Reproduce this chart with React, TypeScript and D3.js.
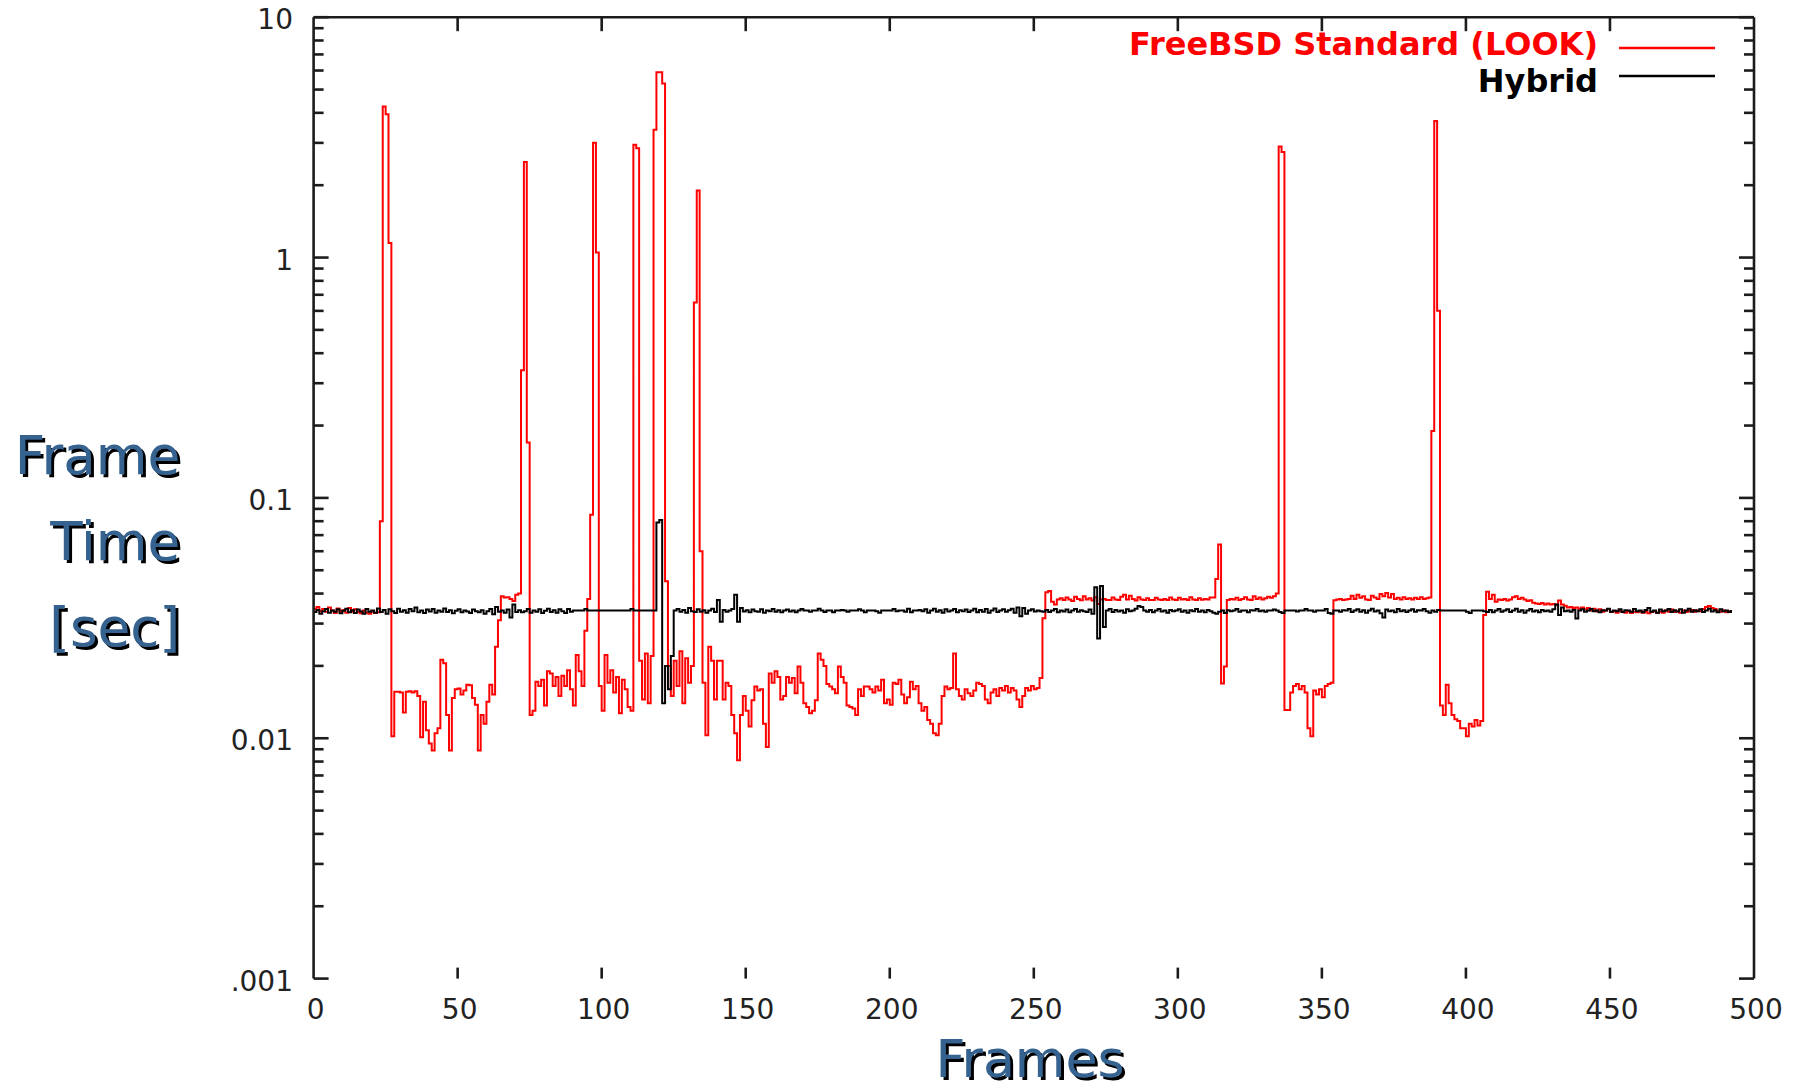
import React from 'react';
import * as d3 from 'd3';

const W = 1801;
const H = 1091;

// FreeBSD Standard (LOOK) frame times, frames 0..492 (seconds)
const freebsdLook: number[] = [
  0.0345,0.0352,0.0338,0.0345,0.0336,0.0350,0.0340,0.0332,0.0347,0.0338,0.0342,0.0333,0.0348,0.0336,0.0344,0.0335,0.0331,0.0340,0.0333,0.0330,
  0.0336,0.0332,0.0334,0.080,4.25,3.95,1.15,0.0102,0.0156,0.0156,0.0155,0.0128,0.0156,0.0157,0.0155,0.0157,0.0150,0.0101,0.0142,0.0108,
  0.0095,0.0089,0.0105,0.0110,0.0212,0.0205,0.0125,0.0089,0.0147,0.0160,0.0161,0.0152,0.0158,0.0167,0.0166,0.0147,0.0138,0.0089,0.0125,0.0115,
  0.0142,0.0167,0.0152,0.024,0.031,0.039,0.0385,0.0386,0.0380,0.0372,0.0395,0.0400,0.34,2.5,0.17,0.0125,0.0130,0.0172,0.0165,0.0175,
  0.0137,0.0190,0.0186,0.0165,0.0180,0.0150,0.0182,0.0165,0.0192,0.0160,0.0137,0.0222,0.0190,0.0165,0.028,0.038,0.085,3.0,1.05,0.0165,
  0.0130,0.0222,0.0170,0.0192,0.0155,0.0180,0.0127,0.0175,0.0160,0.0135,0.0130,2.95,2.85,0.0210,0.0145,0.0225,0.0140,0.0220,3.4,5.9,
  5.9,5.3,0.045,0.020,0.0150,0.0210,0.0165,0.0230,0.0140,0.0215,0.0170,0.0200,0.65,1.9,0.060,0.017,0.0103,0.024,0.021,0.0145,
  0.021,0.021,0.0145,0.017,0.0165,0.0125,0.0105,0.0081,0.0125,0.015,0.013,0.0112,0.0144,0.0164,0.0158,0.0160,0.0115,0.0092,0.0186,0.0170,
  0.0190,0.0180,0.0145,0.0150,0.0180,0.0170,0.0178,0.0154,0.0199,0.0170,0.0140,0.0135,0.0127,0.0130,0.0144,0.0225,0.0212,0.0200,0.0168,0.0164,
  0.0160,0.0154,0.0199,0.0180,0.0170,0.0137,0.0135,0.0133,0.0125,0.0160,0.0150,0.0164,0.0164,0.0160,0.0155,0.0164,0.0158,0.0175,0.0140,0.0145,
  0.0138,0.0170,0.0168,0.0175,0.0152,0.0140,0.0148,0.0172,0.0160,0.0165,0.0140,0.0130,0.0135,0.0119,0.0115,0.0105,0.0103,0.0115,0.0150,0.0164,
  0.0160,0.0162,0.0225,0.0160,0.0150,0.0145,0.0160,0.0154,0.0150,0.0158,0.0170,0.0168,0.0165,0.0145,0.0140,0.0155,0.0160,0.0150,0.0162,0.0158,
  0.0165,0.0155,0.0162,0.0158,0.0145,0.0135,0.0150,0.0162,0.0158,0.0165,0.0160,0.0162,0.0178,0.0316,0.0405,0.0410,0.0370,0.0360,0.0378,0.0382,
  0.0376,0.0385,0.0378,0.0372,0.0388,0.0380,0.0375,0.0390,0.0378,0.0382,0.0374,0.0386,0.0362,0.0378,0.0380,0.0376,0.0376,0.0385,0.0378,0.0376,
  0.0388,0.0395,0.0378,0.0392,0.0380,0.0374,0.0386,0.0378,0.0376,0.0382,0.0376,0.0376,0.0384,0.0378,0.0376,0.0380,0.0376,0.0385,0.0378,0.0376,
  0.0384,0.0378,0.0380,0.0376,0.0386,0.0378,0.0376,0.0382,0.0377,0.0380,0.0378,0.0385,0.0385,0.046,0.064,0.0169,0.0199,0.0376,0.0380,0.0378,
  0.0384,0.0376,0.0380,0.0386,0.0378,0.0376,0.0390,0.0380,0.0385,0.0378,0.0382,0.0388,0.0384,0.0390,0.0400,2.9,2.75,0.0131,0.0131,0.0155,
  0.0165,0.0168,0.0160,0.0165,0.0155,0.0110,0.0102,0.0158,0.0152,0.0160,0.0148,0.0165,0.0168,0.0170,0.0375,0.0378,0.0380,0.0376,0.0378,0.0380,
  0.0392,0.0380,0.0395,0.0384,0.0390,0.0378,0.0376,0.0392,0.0385,0.0380,0.0398,0.0390,0.0402,0.0385,0.0398,0.0380,0.0384,0.0378,0.0386,0.0380,
  0.0382,0.0378,0.0384,0.0380,0.0386,0.0380,0.0382,0.0385,0.19,3.7,0.6,0.0137,0.0125,0.0167,0.0140,0.0125,0.0120,0.0118,0.0110,0.0110,
  0.0102,0.0115,0.0112,0.0119,0.0113,0.0118,0.0326,0.0407,0.0380,0.0395,0.0370,0.0378,0.0376,0.0380,0.0374,0.0378,0.0386,0.0390,0.0380,0.0384,
  0.0378,0.0372,0.0375,0.0366,0.0364,0.0362,0.0365,0.0360,0.0364,0.0360,0.0362,0.0358,0.0374,0.0360,0.0356,0.0350,0.0352,0.0348,0.0350,0.0346,
  0.0350,0.0344,0.0348,0.0340,0.0346,0.0338,0.0344,0.0336,0.0340,0.0345,0.0335,0.0338,0.0333,0.0340,0.0336,0.0333,0.0338,0.0332,0.0336,0.0334,
  0.0338,0.0333,0.0336,0.0331,0.0335,0.0338,0.0332,0.0336,0.0333,0.0340,0.0336,0.0343,0.0335,0.0338,0.0333,0.0340,0.0335,0.0338,0.0342,0.0336,
  0.0340,0.0338,0.0345,0.0352,0.0355,0.0348,0.0345,0.0338,0.0336,0.0340,0.0334,0.0338,0.0336,
];

// Hybrid frame times, frames 0..492 (seconds)
const hybrid: number[] = [
  0.0335,0.0342,0.0330,0.0338,0.0345,0.0333,0.0340,0.0336,0.0344,0.0331,0.0339,0.0346,0.0334,0.0341,0.0332,0.0343,0.0337,0.0330,0.0345,0.0336,
  0.0340,0.0333,0.0347,0.0335,0.0342,0.0330,0.0344,0.0338,0.0332,0.0346,0.0336,0.0341,0.0333,0.0345,0.0338,0.0350,0.0334,0.0340,0.0332,0.0343,
  0.0337,0.0345,0.0333,0.0340,0.0336,0.0347,0.0335,0.0341,0.0331,0.0339,0.0344,0.0334,0.0340,0.0337,0.0332,0.0343,0.0338,0.0334,0.0341,0.0330,
  0.0338,0.0345,0.0328,0.0352,0.0336,0.0340,0.0333,0.0343,0.0318,0.0360,0.0335,0.0341,0.0334,0.0338,0.0345,0.0333,0.0340,0.0336,0.0344,0.0332,
  0.0339,0.0346,0.0335,0.0341,0.0333,0.0344,0.0338,0.0332,0.0345,0.0336,0.0340,0.0340,0.0340,0.0340,0.0345,0.0340,0.0340,0.0340,0.0340,0.0340,
  0.0340,0.0340,0.0340,0.0340,0.0340,0.0340,0.0340,0.0340,0.0340,0.0340,0.0345,0.0340,0.0340,0.0340,0.0340,0.0340,0.0340,0.0340,0.0340,0.0790,
  0.0810,0.0140,0.0200,0.0160,0.0220,0.0340,0.0345,0.0336,0.0342,0.0333,0.0348,0.0338,0.0335,0.0344,0.0336,0.0341,0.0333,0.0340,0.0346,0.0335,
  0.0376,0.0305,0.0342,0.0336,0.0340,0.0345,0.0395,0.0305,0.0348,0.0337,0.0341,0.0334,0.0343,0.0338,0.0336,0.0344,0.0333,0.0340,0.0338,0.0345,
  0.0336,0.0341,0.0334,0.0340,0.0343,0.0337,0.0340,0.0334,0.0340,0.0345,0.0340,0.0340,0.0336,0.0340,0.0340,0.0346,0.0340,0.0335,0.0340,0.0340,
  0.0334,0.0340,0.0340,0.0342,0.0340,0.0336,0.0340,0.0340,0.0340,0.0344,0.0340,0.0334,0.0340,0.0340,0.0340,0.0338,0.0333,0.0340,0.0340,0.0340,
  0.0340,0.0345,0.0338,0.0340,0.0340,0.0336,0.0346,0.0334,0.0340,0.0340,0.0342,0.0338,0.0344,0.0333,0.0340,0.0346,0.0336,0.0341,0.0333,0.0344,
  0.0337,0.0340,0.0345,0.0334,0.0341,0.0338,0.0343,0.0335,0.0340,0.0346,0.0334,0.0342,0.0336,0.0345,0.0333,0.0340,0.0347,0.0335,0.0340,0.0344,
  0.0336,0.0341,0.0346,0.0333,0.0350,0.0322,0.0348,0.0330,0.0340,0.0344,0.0337,0.0340,0.0338,0.0336,0.0342,0.0335,0.0340,0.0345,0.0334,0.0340,
  0.0337,0.0343,0.0334,0.0340,0.0345,0.0336,0.0341,0.0338,0.0335,0.0343,0.0330,0.0425,0.0260,0.0430,0.0290,0.0340,0.0345,0.0335,0.0342,0.0337,
  0.0340,0.0333,0.0344,0.0338,0.0340,0.0346,0.0355,0.0352,0.0340,0.0336,0.0342,0.0334,0.0340,0.0345,0.0337,0.0340,0.0333,0.0342,0.0338,0.0340,
  0.0344,0.0336,0.0340,0.0333,0.0341,0.0338,0.0345,0.0336,0.0340,0.0334,0.0342,0.0338,0.0333,0.0330,0.0336,0.0340,0.0332,0.0341,0.0338,0.0340,
  0.0345,0.0336,0.0340,0.0340,0.0334,0.0341,0.0340,0.0345,0.0338,0.0340,0.0336,0.0340,0.0340,0.0343,0.0340,0.0335,0.0332,0.0340,0.0340,0.0340,
  0.0340,0.0337,0.0340,0.0340,0.0345,0.0340,0.0340,0.0336,0.0340,0.0340,0.0340,0.0345,0.0332,0.0330,0.0340,0.0340,0.0336,0.0341,0.0340,0.0345,
  0.0335,0.0340,0.0344,0.0336,0.0341,0.0333,0.0340,0.0346,0.0337,0.0340,0.0331,0.0318,0.0343,0.0338,0.0340,0.0334,0.0345,0.0338,0.0341,0.0335,
  0.0340,0.0344,0.0336,0.0341,0.0340,0.0345,0.0338,0.0333,0.0340,0.0336,0.0342,0.0340,0.0340,0.0340,0.0340,0.0340,0.0340,0.0340,0.0340,0.0340,
  0.0336,0.0332,0.0340,0.0340,0.0340,0.0340,0.0338,0.0335,0.0342,0.0334,0.0340,0.0345,0.0336,0.0340,0.0344,0.0335,0.0340,0.0346,0.0336,0.0341,
  0.0333,0.0340,0.0345,0.0337,0.0340,0.0334,0.0342,0.0338,0.0340,0.0336,0.0344,0.0360,0.0326,0.0350,0.0338,0.0340,0.0336,0.0342,0.0315,0.0340,
  0.0344,0.0336,0.0340,0.0345,0.0338,0.0340,0.0334,0.0341,0.0340,0.0346,0.0336,0.0340,0.0338,0.0344,0.0335,0.0341,0.0340,0.0336,0.0345,0.0338,
  0.0340,0.0334,0.0342,0.0348,0.0336,0.0340,0.0333,0.0343,0.0338,0.0340,0.0345,0.0335,0.0341,0.0337,0.0344,0.0333,0.0340,0.0346,0.0336,0.0341,
  0.0338,0.0344,0.0335,0.0340,0.0346,0.0337,0.0341,0.0334,0.0344,0.0338,0.0340,0.0335,0.0342,
];

const xTickValues = [0, 50, 100, 150, 200, 250, 300, 350, 400, 450, 500];
const xTickLabels = ['0', '50', '100', '150', '200', '250', '300', '350', '400', '450', '500'];
const yTickValues = [10, 1, 0.1, 0.01, 0.001];
const yTickLabels = ['10', '1', '0.1', '0.01', '.001'];
const seriesNames = ['FreeBSD Standard (LOOK)', 'Hybrid'];
const seriesColors = ['#ff0000', '#000000'];
const yTitleLines = ['Frame', 'Time', '[sec]'];
const xTitle = 'Frames';

const PL = 313.6, PR = 1754, PT = 17.2, PB = 978.6;

export default function App() {
  const x = d3.scaleLinear().domain([0, 500]).range([PL, PR]);
  const y = d3.scaleLog().domain([0.001, 10]).range([PB, PT]);

  const line = d3
    .line<number>()
    .x((_, i) => x(i))
    .y((d) => y(d))
    .curve(d3.curveStepAfter);

  const minor: number[] = [];
  [0.001, 0.01, 0.1, 1].forEach((dec) => {
    for (let k = 2; k <= 9; k++) minor.push(dec * k);
  });

  const axisColor = '#1c1c1c';
  const axisW = 2.6;
  const tickFont = "'DejaVu Sans', sans-serif";
  const titleBlue = '#35628f';

  const series = [freebsdLook, hybrid];

  return (
    <svg
      width={W}
      height={H}
      style={{ position: 'absolute', left: 0, top: 0, display: 'block', background: '#fff' }}
    >
      <defs>
        <filter id="titleShadow" x="-10%" y="-20%" width="130%" height="150%">
          <feDropShadow dx={3} dy={3} stdDeviation={0.6} floodColor="#000" floodOpacity={1} />
        </filter>
      </defs>
      <rect x={0} y={0} width={W} height={H} fill="#ffffff" />

      {series.map((s, i) => (
        <path
          key={seriesNames[i]}
          d={line(s) || ''}
          fill="none"
          stroke={seriesColors[i]}
          strokeWidth={2}
        />
      ))}

      {/* frame: left, top, right (no bottom line) */}
      <line x1={PL} y1={PT} x2={PL} y2={PB} stroke={axisColor} strokeWidth={axisW} />
      <line x1={PR} y1={PT} x2={PR} y2={PB} stroke={axisColor} strokeWidth={axisW} />
      <line x1={PL} y1={PT} x2={PR} y2={PT} stroke={axisColor} strokeWidth={axisW} />

      {/* y ticks */}
      {yTickValues.map((v) => (
        <g key={'ym' + v}>
          <line x1={PL} x2={PL + 15} y1={y(v)} y2={y(v)} stroke={axisColor} strokeWidth={axisW} />
          <line x1={PR} x2={PR - 15} y1={y(v)} y2={y(v)} stroke={axisColor} strokeWidth={axisW} />
        </g>
      ))}
      {minor.map((v) => (
        <g key={'yn' + v}>
          <line x1={PL} x2={PL + 10} y1={y(v)} y2={y(v)} stroke={axisColor} strokeWidth={axisW} />
          <line x1={PR} x2={PR - 10} y1={y(v)} y2={y(v)} stroke={axisColor} strokeWidth={axisW} />
        </g>
      ))}

      {/* x ticks */}
      {xTickValues.slice(1, -1).map((v) => (
        <g key={'xt' + v}>
          <line x1={x(v)} x2={x(v)} y1={PT} y2={PT + 14} stroke={axisColor} strokeWidth={axisW} />
          <line x1={x(v)} x2={x(v)} y1={PB} y2={PB - 11} stroke={axisColor} strokeWidth={axisW} />
        </g>
      ))}

      {/* tick labels */}
      {yTickValues.map((v, i) => (
        <text
          key={'yl' + v}
          x={293}
          y={y(v) + 12}
          textAnchor="end"
          fontFamily={tickFont}
          fontSize={28}
          fill="#222"
        >
          {yTickLabels[i]}
        </text>
      ))}
      {xTickValues.map((v, i) => (
        <text
          key={'xl' + v}
          x={x(v) + 2}
          y={1019}
          textAnchor="middle"
          fontFamily={tickFont}
          fontSize={28}
          fill="#222"
        >
          {xTickLabels[i]}
        </text>
      ))}

      {/* legend */}
      {seriesNames.map((n, i) => (
        <g key={'lg' + n}>
          <text
            x={1598}
            y={i === 0 ? 55 : 92}
            textAnchor="end"
            fontFamily={tickFont}
            fontWeight="bold"
            fontSize={32}
            fill={seriesColors[i]}
          >
            {n}
          </text>
          <line
            x1={1619}
            x2={1715}
            y1={i === 0 ? 48 : 76}
            y2={i === 0 ? 48 : 76}
            stroke={seriesColors[i]}
            strokeWidth={2.5}
          />
        </g>
      ))}

      {/* y title with shadow */}
      {yTitleLines.map((t, i) => (
        <text
          key={'yt' + t}
          x={180}
          y={474 + i * 86}
          textAnchor="end"
          fontFamily={tickFont}
          fontSize={53}
          fill={titleBlue}
          filter="url(#titleShadow)"
        >
          {t}
        </text>
      ))}

      {/* x title with shadow */}
      <text
        x={1030}
        y={1077}
        textAnchor="middle"
        fontFamily={tickFont}
        fontSize={52}
        fill={titleBlue}
        filter="url(#titleShadow)"
      >
        {xTitle}
      </text>
    </svg>
  );
}
